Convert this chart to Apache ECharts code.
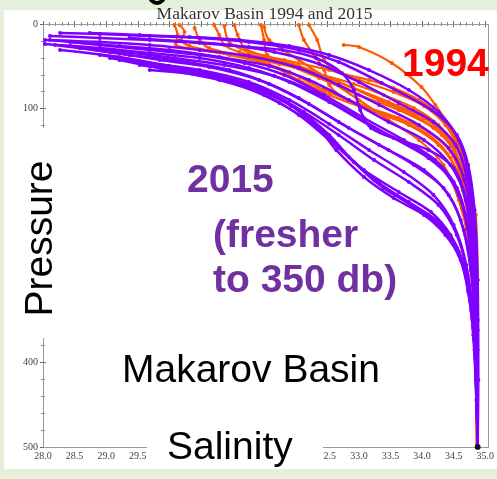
<!DOCTYPE html>
<html><head><meta charset="utf-8">
<script src="https://cdn.jsdelivr.net/npm/echarts@6/dist/echarts.min.js"></script>
<style>
html,body{margin:0;padding:0;background:#e4f0da;width:497px;height:479px;overflow:hidden}
#panel{position:absolute;left:4px;top:10px;width:493px;height:459px;background:#fff}
#chart{position:absolute;left:0;top:0;width:497px;height:479px}
</style></head><body><div id="panel"></div><div id="chart"></div>
<script>
// Salinity ticks and pressure ticks
const salinityTicks = [28.0,28.5,29.0,29.5,30.0,30.5,31.0,31.5,32.0,32.5,33.0,33.5,34.0,34.5,35.0];
const pressureTicks = [0,100,200,300,400,500];

// 2015 profiles: [salinity, pressure]
const purple2015 = [
 [[28.27,10.6],[28.90,11.8],[29.69,14.2],[30.48,16.5],[31.26,21.3],[32.05,30.7],[32.68,44.9],[33.36,69.7],[34.15,101.7],[34.55,131.2],[34.73,166.7],[34.83,219.9],[34.88,302.6],[34.89,420.8],[34.88,500]],
 [[28.11,14.2],[28.90,16.5],[29.69,18.9],[30.48,22.5],[31.26,27.2],[31.79,30.7],[32.32,40.2],[32.73,57.9],[32.92,78.0],[33.02,101.7],[33.19,122.9],[33.63,137.1],[34.10,148.9],[34.50,170.2],[34.70,208.0],[34.81,267.1],[34.88,361.7],[34.88,500]],
 [[28.03,18.9],[28.90,21.3],[29.69,24.8],[30.48,30.7],[31.26,37.8],[32.05,52.0],[32.68,72.1],[33.32,95.7],[33.95,119.4],[34.42,146.6],[34.67,184.4],[34.80,243.5],[34.86,326.2],[34.88,500]],
 [[28.43,21.3],[29.21,26.0],[30.00,30.7],[30.79,39.0],[31.58,49.6],[32.21,66.2],[32.84,89.8],[33.47,115.8],[34.03,137.1],[34.45,166.7],[34.69,208.0],[34.81,279.0],[34.88,385.3],[34.88,500]],
 [[28.74,10.6],[29.53,13.0],[30.32,15.4],[31.11,18.9],[31.90,26.0],[32.53,36.6],[33.16,54.4],[33.79,78.0],[34.26,104.0],[34.58,137.1],[34.75,184.4],[34.85,255.3],[34.88,349.9],[34.88,500]],
 [[29.37,16.5],[30.16,20.1],[30.95,24.8],[31.66,33.1],[32.37,47.3],[33.00,68.6],[33.63,93.4],[34.18,115.8],[34.53,143.0],[34.70,178.5],[34.81,231.7],[34.86,314.4],[34.88,500]],
 [[28.03,23.6],[28.90,28.4],[29.69,34.3],[30.48,40.2],[31.26,52.0],[31.90,68.6],[32.53,92.2],[33.16,119.4],[33.79,143.0],[34.26,166.7],[34.58,202.1],[34.75,255.3],[34.85,338.1],[34.88,500]],
 [[28.58,28.4],[29.37,36.6],[30.16,43.7],[30.95,54.4],[31.58,70.9],[32.21,94.6],[32.84,122.9],[33.47,148.9],[34.03,172.6],[34.42,202.1],[34.66,243.5],[34.80,302.6],[34.86,397.2],[34.88,500]],
 [[28.19,24.8],[29.06,33.1],[29.85,42.6],[30.63,50.8],[31.42,66.2],[32.05,87.5],[32.68,115.8],[33.32,143.0],[33.87,166.7],[34.34,193.9],[34.61,231.7],[34.77,290.8],[34.85,373.5],[34.88,500]],
 [[28.90,36.6],[29.69,46.1],[30.48,54.4],[31.26,68.6],[31.90,89.8],[32.53,118.2],[33.16,148.9],[33.71,174.9],[34.18,202.1],[34.50,237.6],[34.70,284.9],[34.81,349.9],[34.88,500]],
 [[28.27,30.7],[29.21,39.0],[30.00,49.6],[30.79,61.5],[31.50,78.0],[32.13,104.0],[32.68,131.2],[33.24,160.8],[33.79,186.8],[34.26,213.9],[34.55,249.4],[34.72,296.7],[34.83,373.5],[34.88,500]],
 [[28.43,26.0],[29.29,33.1],[30.08,40.2],[30.87,48.5],[31.66,61.5],[32.29,80.4],[32.92,107.6],[33.55,134.8],[34.10,158.4],[34.50,186.8],[34.69,225.8],[34.80,284.9],[34.86,373.5],[34.88,500]],
 [[28.11,18.9],[28.90,24.8],[29.69,30.7],[30.48,36.6],[31.19,46.1],[31.82,60.3],[32.45,83.9],[33.08,111.1],[33.71,137.1],[34.21,160.8],[34.55,193.9],[34.72,241.1],[34.83,314.4],[34.88,500]],
 [[29.21,42.6],[30.00,54.4],[30.79,66.2],[31.50,83.9],[32.05,107.6],[32.53,137.1],[33.08,172.6],[33.63,198.6],[34.14,222.2],[34.45,249.4],[34.66,284.9],[34.78,338.1],[34.86,420.8],[34.88,500]],
 [[29.53,48.5],[30.32,57.9],[31.11,72.1],[31.74,93.4],[32.29,119.4],[32.76,151.3],[33.24,184.4],[33.79,210.4],[34.26,234.0],[34.55,264.8],[34.72,308.5],[34.83,373.5],[34.88,500]],
 [[29.69,54.4],[30.74,63.8],[31.79,89.8],[32.32,119.4],[32.64,148.9],[33.08,180.9],[33.55,205.7],[34.03,225.8],[34.37,249.4],[34.61,279.0],[34.73,314.4],[34.81,367.6],[34.86,444.4],[34.88,500]],
 [[29.85,52.0],[30.63,61.5],[31.42,78.0],[32.05,101.7],[32.53,131.2],[32.92,163.1],[33.39,193.9],[33.91,217.5],[34.34,241.1],[34.58,269.5],[34.73,305.0],[34.83,361.7],[34.88,500]],
 [[29.06,40.2],[29.85,49.6],[30.63,59.1],[31.34,75.7],[31.93,96.9],[32.40,125.3],[32.84,157.2],[33.32,187.9],[33.82,213.9],[34.29,238.8],[34.58,273.0],[34.73,316.8],[34.83,385.3],[34.88,500]]
];

// 1994 profiles: [salinity, pressure]
const orange1994 = [
 [[30.16,1.2],[30.24,9.5],[30.19,18.9],[30.32,26.0],[30.95,36.6],[31.58,48.5],[32.05,66.2],[32.53,83.9],[33.16,101.7],[33.79,119.4],[34.26,143.0],[34.55,172.6],[34.70,208.0],[34.80,255.3],[34.85,326.2],[34.86,420.8],[34.87,500]],
 [[30.71,1.2],[30.79,13.0],[30.87,24.8],[31.11,33.1],[31.74,44.9],[32.37,63.8],[33.00,83.9],[33.63,101.7],[34.18,122.9],[34.50,148.9],[34.67,190.3],[34.78,243.5],[34.85,314.4],[34.87,500]],
 [[31.03,1.2],[31.08,13.0],[31.19,28.4],[31.50,37.8],[32.05,49.6],[32.68,68.6],[33.32,89.8],[33.87,107.6],[34.31,131.2],[34.58,160.8],[34.72,202.1],[34.81,255.3],[34.86,349.9],[34.87,500]],
 [[31.45,1.2],[31.50,18.9],[31.55,36.6],[31.90,48.5],[32.37,60.3],[32.92,75.7],[33.47,92.2],[34.03,111.1],[34.42,137.1],[34.62,172.6],[34.75,219.9],[34.83,290.8],[34.87,500]],
 [[32.05,1.2],[32.13,18.9],[32.29,36.6],[32.45,54.4],[32.53,72.1],[32.76,87.5],[33.16,99.3],[33.63,111.1],[34.10,127.7],[34.45,151.3],[34.66,190.3],[34.78,243.5],[34.85,326.2],[34.87,500]],
 [[32.21,1.2],[32.34,18.9],[32.45,42.6],[32.68,56.7],[33.16,66.2],[33.55,75.7],[33.95,89.8],[34.26,107.6],[34.50,131.2],[34.66,166.7],[34.77,213.9],[34.83,279.0],[34.87,500]],
 [[32.76,24.8],[33.00,27.2],[33.52,46.1],[33.99,74.5],[34.21,95.7],[34.42,119.4],[34.58,143.0],[34.67,166.7],[34.77,196.2],[34.85,225.8],[34.88,302.6],[34.87,500]],
 [[30.40,4.7],[30.48,18.9],[30.63,28.4],[31.26,40.2],[31.90,56.7],[32.45,78.0],[33.00,94.6],[33.55,111.1],[34.10,131.2],[34.45,158.4],[34.64,196.2],[34.77,249.4],[34.85,326.2],[34.87,500]],
 [[30.87,2.4],[30.95,21.3],[31.26,33.1],[31.82,42.6],[32.53,54.4],[33.00,66.2],[33.55,80.4],[34.03,96.9],[34.37,119.4],[34.58,148.9],[34.70,184.4],[34.80,231.7],[34.85,302.6],[34.87,500]],
 [[31.50,3.5],[31.58,18.9],[32.05,42.6],[32.53,66.2],[33.00,89.8],[33.47,113.5],[33.95,137.1],[34.34,166.7],[34.58,208.0],[34.73,255.3],[34.81,326.2],[34.87,500]],
 [[30.08,1.2],[30.13,13.0],[30.10,23.6],[30.48,30.7],[31.11,37.8],[31.74,47.3],[32.37,59.1],[32.92,70.9],[33.39,83.9],[33.87,99.3],[34.26,119.4],[34.51,146.6],[34.67,182.0],[34.78,225.8],[34.85,290.8],[34.87,500]]
];

const bottomPoint = [[34.88, 500]];

const PURPLE = '#8000ff', ORANGE = '#ff5a00';
const SANS = '"Liberation Sans", Arial, sans-serif';
const SERIF = '"Liberation Serif", "Times New Roman", serif';

const series = [];
orange1994.forEach(p => series.push({
  type:'line', data:p, smooth:0.3, showSymbol:true, symbol:'circle', symbolSize:4,
  lineStyle:{width:2.2, color:ORANGE}, itemStyle:{color:ORANGE}, silent:true, z:2
}));
purple2015.forEach(p => series.push({
  type:'line', data:p, smooth:0.3, showSymbol:true, symbol:'circle', symbolSize:4,
  lineStyle:{width:2.5, color:PURPLE}, itemStyle:{color:PURPLE}, silent:true, z:3
}));
series.push({type:'scatter', data:bottomPoint, symbolSize:6, itemStyle:{color:'#000'}, z:5, silent:true, clip:false});

const axisCol = '#666';
function xAx(inside){
  return {type:'value', min:28, max:35, interval:0.5, position:'bottom',
    axisLine:{show:!inside, lineStyle:{color:axisCol, width:1}},
    axisTick:{show:true, inside:inside, length:3, lineStyle:{color:axisCol}},
    minorTick:{show:true, splitNumber:5, length:2, lineStyle:{color:'#888'}},
    splitLine:{show:false}, minorSplitLine:{show:false},
    axisLabel:{show:!inside, fontFamily:SERIF, fontSize:10, color:'#444', margin:4,
      formatter: v => salinityTicks.includes(+v.toFixed(1)) ? v.toFixed(1) : ''}};
}
function yAx(inside){
  return {type:'value', min:0, max:500, interval:100, inverse:true, position:'left',
    axisLine:{show:!inside, lineStyle:{color:axisCol, width:1}},
    axisTick:{show:true, inside:inside, length:3, lineStyle:{color:axisCol}},
    minorTick:{show:true, splitNumber:5, length:2, lineStyle:{color:'#888'}},
    splitLine:{show:false}, minorSplitLine:{show:false},
    axisLabel:{show:!inside, fontFamily:SERIF, fontSize:10, color:'#444', margin:5,
      formatter: v => pressureTicks.includes(v) ? String(v) : ''}};
}

function txt(text, x, y, size, weight, fill, align, rot){
  return {type:'text', x:x, y:y, rotation:rot||0, z:60,
    style:{text:text, fontSize:size, fontFamily: weight==='serif'?SERIF:SANS,
      fontWeight: weight==='bold'?'bold':'normal', fill:fill,
      align:align, textAlign:align, verticalAlign:'middle', textVerticalAlign:'middle'}};
}

const chart = echarts.init(document.getElementById('chart'), null, {renderer:'canvas'});
chart.setOption({
  animation:false,
  backgroundColor:'transparent',
  grid:{left:43, top:24, width:443, height:423, containLabel:false},
  xAxis:[xAx(false), xAx(true)],
  yAxis:[yAx(false), yAx(true)],
  series: series,
  graphic:[
    {type:'rect', shape:{x:43.5, y:24.5, width:445, height:423}, style:{stroke:'#999', fill:null, lineWidth:1}, z:1, silent:true},
    {type:'arc', shape:{cx:157, cy:-4, r:7, startAngle:0, endAngle:Math.PI}, style:{stroke:'#000', lineWidth:4, fill:null}, z:100},
    {type:'rect', shape:{x:12, y:128, width:48, height:210}, style:{fill:'#fff'}, z:50},
    {type:'rect', shape:{x:147, y:428, width:176, height:40}, style:{fill:'#fff'}, z:50},
    txt('Makarov Basin 1994 and 2015', 264.5, 14.7, 17.5, 'serif', '#333', 'center'),
    txt('1994', 402, 65, 39, 'bold', '#ff0000', 'left'),
    txt('2015', 187, 181, 39, 'bold', '#7030a0', 'left'),
    txt('(fresher', 213, 236, 39, 'bold', '#7030a0', 'left'),
    txt('to 350 db)', 213, 281, 39, 'bold', '#7030a0', 'left'),
    txt('Makarov Basin', 122, 371, 39, 'normal', '#000', 'left'),
    txt('Salinity', 167, 448, 39, 'normal', '#000', 'left'),
    txt('Pressure', 41, 238.5, 39, 'normal', '#000', 'center', Math.PI/2)
  ]
});
</script></body></html>
